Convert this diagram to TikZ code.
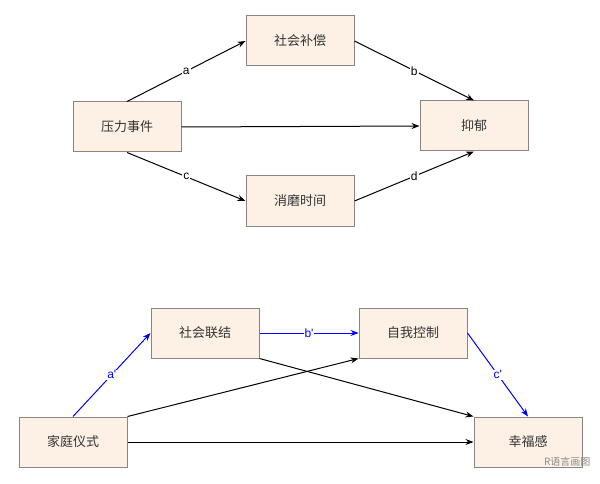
\documentclass[tikz,border=0pt]{standalone}
\usepackage{fontspec}
\setmainfont{Noto Sans CJK SC}
\newfontfamily\latinf{Liberation Sans}
\usetikzlibrary{arrows.meta}
\definecolor{boxfill}{HTML}{FDF1E6}
\definecolor{boxline}{HTML}{8C8480}
\begin{document}
\begin{tikzpicture}[x=1pt,y=-1pt,
  box/.style={draw=boxline,fill=boxfill,line width=1pt,minimum width=108pt,minimum height=50pt,inner sep=0pt,font=\fontsize{13}{15}\selectfont,text=black!80},
  arr/.style={-{Stealth[length=8pt,width=6pt]},line width=1pt},
  lab/.style={fill=white,inner sep=1pt,font=\latinf\fontsize{12}{14}\selectfont}]
\useasboundingbox (0,0) rectangle (600,484);
\node[box] (stress) at (127,127) {压力事件};
\node[box] (comp) at (300,41) {社会补偿};
\node[box] (dep) at (474,126) {抑郁};
\node[box] (time) at (300,201) {消磨时间};
\node[box] (conn) at (205,333) {社会联结};
\node[box] (ctrl) at (413,333) {自我控制};
\node[box] (fam) at (73,442) {家庭仪式};
\node[box] (happy) at (528,442) {幸福感};
\draw[arr] (stress.north) -- (comp.west) node[lab,midway] {a};
\draw[arr] (comp.east) -- (dep.north) node[lab,midway] {b};
\draw[arr] (stress.south) -- (time.west) node[lab,midway] {c};
\draw[arr] (time.east) -- (dep.south) node[lab,midway] {d};
\draw[arr] (stress.east) -- (dep.west);
\draw[arr,blue] (fam.north) -- (conn.west) node[lab,midway,text=blue] {a'};
\draw[arr,blue] (conn.east) -- (ctrl.west) node[lab,midway,text=blue] {b'};
\draw[arr,blue] (ctrl.east) -- (happy.north) node[lab,midway,text=blue] {c'};
\draw[arr] (conn.south east) -- (happy.north west);
\draw[arr] (fam.north east) -- (ctrl.south west);
\draw[arr] (fam.east) -- (happy.west);
\node[font=\fontsize{10}{12}\selectfont,text=black!45,anchor=east] (wm) at (594,462) {R语言画图};
\end{tikzpicture}
\end{document}
